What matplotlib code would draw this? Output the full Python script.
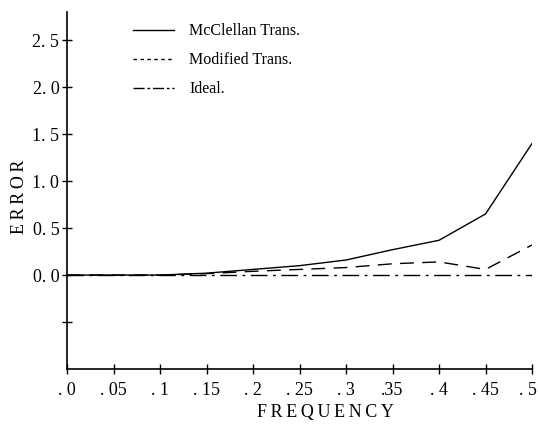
import matplotlib
matplotlib.use("Agg")
import matplotlib.pyplot as plt
from matplotlib.lines import Line2D
from matplotlib.transforms import ScaledTranslation

freq = [0.0, 0.05, 0.1, 0.15, 0.2, 0.25, 0.3, 0.35, 0.4, 0.45, 0.5]
mcclellan = [0.0, 0.0, 0.0, 0.02, 0.06, 0.10, 0.16, 0.27, 0.37, 0.65, 1.40]
modified = [0.0, 0.0, 0.0, 0.015, 0.04, 0.06, 0.08, 0.12, 0.14, 0.06, 0.32]
ideal = [0.0, 0.0, 0.0, 0.0, 0.0, 0.0, 0.0, 0.0, 0.0, 0.0, 0.0]
series_names = ['McClellan Trans.', 'Modified Trans.', 'Ideal.']

xtick_vals = [0.0, 0.05, 0.1, 0.15, 0.2, 0.25, 0.3, 0.35, 0.4, 0.45, 0.5]
xtick_labels = [". 0", ". 05", ". 1", ". 15", ". 2", ". 25", ". 3", ".35", ". 4", ". 45", ". 5"]
ytick_vals = [-0.5, 0.0, 0.5, 1.0, 1.5, 2.0, 2.5]
ytick_labels = ["", "0. 0", "0. 5", "1. 0", "1. 5", "2. 0", "2. 5"]

plt.rcParams['font.family'] = ['Liberation Serif', 'DejaVu Serif']

fig = plt.figure(figsize=(5.38, 4.28), dpi=100)
ax = fig.add_axes([67/538, 1 - 369/428, (532 - 67)/538, (369 - 12)/428])

ax.plot(freq, mcclellan, color='black', lw=1.0, ls='-')
ax.plot(freq, modified, color='black', lw=1.0, ls=(0, (10, 6)))
ax.plot(freq, ideal, color='black', lw=1.0, ls=(0, (12, 4, 2, 4)))

ax.set_xlim(0, 0.5)
ax.set_ylim(-1.0, 2.8)
ax.spines['top'].set_visible(False)
ax.spines['right'].set_visible(False)
ax.spines['left'].set_linewidth(1.2)
ax.spines['bottom'].set_linewidth(1.2)

ax.set_xticks(xtick_vals)
ax.set_xticklabels(xtick_labels, fontsize=13)
ax.set_yticks(ytick_vals)
ax.set_yticklabels(ytick_labels, fontsize=13)
ax.tick_params(direction='inout', length=7, width=1.0, color='black')
ax.tick_params(axis='x', pad=6)
ax.tick_params(axis='y', pad=2)

# nudge the last x label left so it stays inside the figure
last = ax.get_xticklabels()[-1]
last.set_transform(last.get_transform() + ScaledTranslation(-4/100, 0, fig.dpi_scale_trans))

sp = "\u2009"
fig.text(325/538, 1 - 413/428, sp.join("FREQUENCY"), fontsize=13,
         ha='center', va='center')
fig.text(19/538, 1 - 197/428, sp.join("ERROR"), fontsize=13,
         ha='center', va='center', rotation=90)

handles = [
    Line2D([], [], color='black', lw=1.0, ls='-'),
    Line2D([], [], color='black', lw=1.0, ls=(0, (2.5, 2.5))),
    Line2D([], [], color='black', lw=1.0, ls=(0, (8, 2, 2, 2))),
]
ax.legend(handles, series_names, loc='upper left', bbox_to_anchor=(0.11, 1.009),
          frameon=False, fontsize=11.5, handlelength=2.6, handletextpad=0.95,
          labelspacing=0.82)

fig.savefig('out.png', dpi=100)
